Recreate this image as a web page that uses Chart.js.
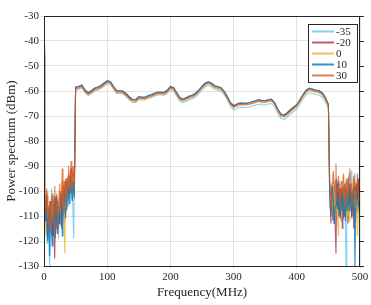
<!DOCTYPE html>
<html>
<head>
<meta charset="utf-8">
<script src="https://cdn.jsdelivr.net/npm/chart.js@4.4.1/dist/chart.umd.min.js"></script>
<style>
  html, body { margin: 0; padding: 0; background: #fff; }
  #wrap { position: relative; width: 371px; height: 305px; }
</style>
</head>
<body>
<div id="wrap"><canvas id="chart" width="371" height="305"></canvas></div>
<script>
// legend labels and line colours (MATLAB-ish palette, a bit transparent)
const seriesLabels = ["-35", "-20", "0", "10", "30"];
const seriesColors = [
  "rgba(77,190,238,0.7)",   // light blue
  "rgba(162,20,47,0.7)",    // dark red
  "rgba(237,177,32,0.8)",   // yellow
  "rgba(0,114,189,0.8)",    // blue
  "rgba(217,83,25,0.75)"    // orange
];

// frequency axis (MHz)
const freqStart = [0];
const freqLow = [
  1,2,3,4,5,6,7,8,9,10,11,12,13,14,15,16,17,18,19,20,21,22,23,24,
  25,26,27,28,29,30,31,32,33,34,35,36,37,38,39,40,41,42,43,44,45,46,47,48
];
const freqPass = [
  50,55,60,65,70,75,80,85,90,95,
  100,105,110,115,120,125,130,135,140,145,
  150,155,160,165,170,175,180,185,190,195,
  200,205,210,215,220,225,230,235,240,245,
  250,255,260,265,270,275,280,285,290,295,
  300,305,310,315,320,325,330,335,340,345,
  350,355,360,365,370,375,380,385,390,395,
  400,405,410,415,420,425,430,435,440,445,
  450
];
const freqHigh = [
  452,453,454,455,456,457,458,459,460,461,462,463,464,465,466,467,468,469,470,471,472,473,474,475,476,
  477,478,479,480,481,482,483,484,485,486,487,488,489,490,491,492,493,494,495,496,497,498,499,500
];

// value at 0 MHz for each series (dBm)
const startValues = [-46, -45, -47, -42, -44];

// out-of-band noise below 50 MHz (dBm)
const lowM35 = [-101,-107,-112,-116,-121,-110,-115,-124,-130,-112,-108,-99,-104,-111,-118,-104,-109,-117,-113,-102,-106,-111,-119,-108,
  -103,-114,-110,-105,-100,-102,-108,-112,-96,-101,-105,-97,-99,-106,-93,-98,-103,-95,-97,-104,-100,-110,-119,-98];
const lowM20 = [-103,-110,-108,-101,-115,-119,-106,-109,-112,-104,-110,-113,-118,-107,-105,-121,-127,-108,-102,-114,-117,-104,-108,-111,
  -112,-106,-100,-115,-110,-103,-98,-109,-106,-100,-95,-107,-102,-97,-94,-101,-99,-96,-91,-100,-97,-93,-95,-98];
const low0 = [-98,-106,-118,-111,-104,-100,-112,-108,-106,-114,-117,-102,-108,-111,-103,-107,-113,-119,-110,-104,-105,-112,-110,-103,
  -100,-109,-106,-101,-96,-107,-104,-112,-125,-99,-108,-103,-95,-98,-101,-95,-92,-100,-98,-93,-96,-102,-94,-97];
const low10 = [-104,-112,-110,-103,-115,-120,-111,-107,-126,-113,-104,-117,-122,-110,-108,-102,-113,-119,-103,-108,-115,-111,-106,-113,
  -109,-104,-101,-110,-118,-106,-104,-100,-98,-111,-107,-102,-96,-99,-102,-105,-97,-94,-99,-101,-104,-96,-98,-103];
const low30 = [-100,-109,-107,-99,-102,-111,-114,-106,-104,-116,-110,-103,-101,-108,-113,-105,-98,-110,-108,-101,-104,-115,-112,-100,
  -97,-106,-105,-99,-91,-108,-103,-96,-98,-104,-95,-100,-102,-94,-90,-98,-97,-92,-88,-101,-96,-90,-93,-99];

// pass band 50..450 MHz (dBm)
const passM35 = [
  -59.6,-59.3,-58.8,-60.8,-61.8,-61.0,-60.0,-59.6,-59.0,-58.0,
  -57.0,-57.4,-59.3,-61.0,-61.0,-61.2,-62.2,-63.5,-64.5,-64.6,
  -63.4,-63.6,-63.6,-63.0,-62.6,-62.0,-61.6,-61.6,-61.7,-60.8,
  -59.7,-60.1,-62.1,-64.1,-64.7,-64.1,-63.5,-63.1,-62.3,-61.1,
  -59.5,-58.3,-57.7,-58.3,-59.3,-59.7,-60.1,-61.5,-63.6,-66.1,
  -67.6,-67.0,-66.5,-66.6,-66.6,-66.4,-66.0,-65.6,-65.2,-65.6,
  -65.6,-65.2,-65.0,-66.4,-69.0,-71.0,-71.4,-70.4,-69.2,-68.2,
  -67.2,-65.2,-63.1,-61.4,-60.6,-61.0,-61.4,-61.6,-62.4,-64.2,
  -67.0
];
const passM20 = [
  -58.6,-58.3,-57.8,-59.8,-60.8,-60.0,-59.0,-58.6,-58.0,-57.0,
  -56.0,-56.4,-58.3,-60.0,-60.0,-60.2,-61.2,-62.5,-63.5,-63.6,
  -62.4,-62.6,-62.6,-62.0,-61.6,-61.0,-60.6,-60.6,-60.7,-59.8,
  -58.4,-58.8,-60.8,-62.8,-63.4,-62.8,-62.2,-61.8,-61.0,-59.8,
  -58.2,-57.0,-56.4,-57.0,-58.0,-58.4,-58.8,-60.2,-62.3,-64.8,
  -66.0,-65.4,-64.9,-65.0,-65.0,-64.8,-64.4,-64.0,-63.6,-64.0,
  -64.0,-63.6,-63.4,-64.8,-67.4,-69.4,-69.8,-68.8,-67.6,-66.6,
  -65.6,-63.6,-61.5,-59.8,-59.0,-59.4,-59.8,-60.0,-60.8,-62.6,
  -65.4
];
const pass0 = [
  -59.3,-59.0,-58.5,-60.5,-61.5,-60.7,-59.7,-59.3,-58.7,-57.7,
  -56.7,-57.1,-59.0,-60.7,-60.7,-60.9,-61.9,-63.2,-64.2,-64.3,
  -63.1,-63.3,-63.3,-62.7,-62.3,-61.7,-61.3,-61.3,-61.4,-60.5,
  -59.1,-59.5,-61.5,-63.5,-64.1,-63.5,-62.9,-62.5,-61.7,-60.5,
  -58.9,-57.7,-57.1,-57.7,-58.7,-59.1,-59.5,-60.9,-63.0,-65.5,
  -66.7,-66.1,-65.6,-65.7,-65.7,-65.5,-65.1,-64.7,-64.3,-64.7,
  -64.7,-64.3,-64.1,-65.5,-68.1,-70.1,-70.5,-69.5,-68.3,-67.3,
  -66.3,-64.3,-62.2,-60.5,-59.7,-60.1,-60.5,-60.7,-61.5,-63.3,
  -66.1
];
const pass10 = [
  -58.4,-58.1,-57.6,-59.6,-60.6,-59.8,-58.8,-58.4,-57.8,-56.8,
  -55.8,-56.2,-58.1,-59.8,-59.8,-60.0,-61.0,-62.3,-63.3,-63.4,
  -62.2,-62.4,-62.4,-61.8,-61.4,-60.8,-60.4,-60.4,-60.5,-59.6,
  -58.2,-58.6,-60.6,-62.6,-63.2,-62.6,-62.0,-61.6,-60.8,-59.6,
  -58.0,-56.8,-56.2,-56.8,-57.8,-58.2,-58.6,-60.0,-62.1,-64.6,
  -65.8,-65.2,-64.7,-64.8,-64.8,-64.6,-64.2,-63.8,-63.4,-63.8,
  -63.8,-63.4,-63.2,-64.6,-67.2,-69.2,-69.6,-68.6,-67.4,-66.4,
  -65.4,-63.4,-61.3,-59.6,-58.8,-59.2,-59.6,-59.8,-60.6,-62.4,
  -65.2
];
const pass30 = [
  -59.0,-58.7,-58.2,-60.2,-61.2,-60.4,-59.4,-59.0,-58.4,-57.4,
  -56.4,-56.8,-58.7,-60.4,-60.4,-60.6,-61.6,-62.9,-63.9,-64.0,
  -62.8,-63.0,-63.0,-62.4,-62.0,-61.4,-61.0,-61.0,-61.1,-60.2,
  -58.8,-59.2,-61.2,-63.2,-63.8,-63.2,-62.6,-62.2,-61.4,-60.2,
  -58.6,-57.4,-56.8,-57.4,-58.4,-58.8,-59.2,-60.6,-62.7,-65.2,
  -66.4,-65.8,-65.3,-65.4,-65.4,-65.2,-64.8,-64.4,-64.0,-64.4,
  -64.4,-64.0,-63.8,-65.2,-67.8,-69.8,-70.2,-69.2,-68.0,-67.0,
  -66.0,-64.0,-61.9,-60.2,-59.4,-59.8,-60.2,-60.4,-61.2,-63.0,
  -65.8
];

// out-of-band noise above 450 MHz (dBm)
const highM35 = [-96,-101,-104,-97,-110,-105,-99,-112,-106,-100,-95,-103,-108,-96,-101,-109,-97,-104,-112,-99,-103,-107,-98,-101,-106,
  -115,-130,-104,-100,-97,-94,-108,-99,-102,-92,-98,-105,-110,-100,-93,-96,-103,-108,-99,-102,-106,-95,-101,-110];
const highM20 = [-100,-106,-113,-99,-103,-112,-108,-101,-110,-116,-125,-104,-97,-103,-110,-99,-104,-111,-99,-106,-115,-98,-102,-110,-107,
  -101,-96,-108,-103,-113,-109,-100,-98,-106,-105,-111,-100,-102,-115,-98,-104,-109,-97,-103,-108,-95,-101,-104,-99];
const high0 = [-98,-103,-106,-110,-101,-96,-111,-105,-97,-108,-104,-99,-109,-113,-118,-102,-100,-107,-105,-111,-98,-103,-108,-97,-103,
  -109,-95,-104,-110,-99,-101,-112,-106,-101,-99,-107,-104,-95,-98,-106,-112,-100,-103,-110,-118,-104,-100,-113,-108];
const high10 = [-102,-107,-110,-103,-98,-101,-105,-113,-112,-106,-100,-95,-107,-104,-96,-110,-109,-100,-103,-108,-99,-105,-111,-102,-97,
  -112,-106,-99,-101,-108,-104,-97,-108,-103,-100,-110,-105,-101,-98,-107,-130,-111,-102,-99,-97,-106,-104,-109,-100];
const high30 = [-95,-100,-103,-108,-97,-94,-92,-98,-101,-96,-89,-104,-99,-101,-94,-99,-104,-107,-96,-102,-100,-95,-93,-106,-98,
  -100,-102,-97,-95,-104,-99,-93,-91,-101,-97,-106,-103,-99,-94,-96,-98,-104,-100,-97,-93,-102,-96,-107,-101];

const lowSets = [lowM35, lowM20, low0, low10, low30];
const passSets = [passM35, passM20, pass0, pass10, pass30];
const highSets = [highM35, highM20, high0, high10, high30];

const freqAll = freqStart.concat(freqLow, freqPass, freqHigh);

const FONT = "'Liberation Serif', 'Times New Roman', serif";
const TXT = "#262626";

const datasets = seriesLabels.map((lab, i) => {
  const vals = [startValues[i]].concat(lowSets[i], passSets[i], highSets[i]);
  return {
    label: lab,
    data: freqAll.map((f, k) => ({ x: f, y: vals[k] })),
    borderColor: seriesColors[i],
    borderWidth: 1.1,
    pointRadius: 0,
    tension: 0,
    fill: false,
    order: seriesLabels.length - i  // last series drawn on top
  };
});

// box around the axes + right-side ticks
const framePlugin = {
  id: "frame",
  afterDraw(chart) {
    const { ctx, chartArea: a } = chart;
    const ys = chart.scales.y;
    ctx.save();
    ctx.strokeStyle = TXT;
    ctx.lineWidth = 1;
    ctx.strokeRect(a.left + 0.5, a.top + 0.5, a.right - a.left - 1, a.bottom - a.top);
    ctx.beginPath();
    ys.ticks.forEach(t => {
      const y = Math.round(ys.getPixelForValue(t.value)) + 0.5;
      ctx.moveTo(a.right, y);
      ctx.lineTo(a.right + 4, y);
    });
    ctx.stroke();
    ctx.restore();
  }
};

// boxed legend in the top-right corner
const legendPlugin = {
  id: "boxLegend",
  afterDraw(chart) {
    const { ctx } = chart;
    const x0 = 308.5, y0 = 24.5, w = 49, h = 58;
    ctx.save();
    ctx.fillStyle = "#fff";
    ctx.fillRect(x0, y0, w, h);
    ctx.strokeStyle = TXT;
    ctx.lineWidth = 1;
    ctx.strokeRect(x0, y0, w, h);
    ctx.font = "11px " + FONT;
    ctx.textBaseline = "middle";
    chart.data.datasets.forEach((ds, i) => {
      const y = 31.5 + i * 11;
      ctx.strokeStyle = ds.borderColor;
      ctx.lineWidth = 2;
      ctx.beginPath();
      ctx.moveTo(312, y);
      ctx.lineTo(334, y);
      ctx.stroke();
      ctx.fillStyle = TXT;
      ctx.fillText(ds.label, 336, y + 0.5);
    });
    ctx.restore();
  }
};

new Chart(document.getElementById("chart").getContext("2d"), {
  type: "line",
  data: { datasets: datasets },
  options: {
    responsive: false,
    animation: false,
    layout: { padding: { left: 0, top: 16, right: 11, bottom: 0 } },
    plugins: { legend: { display: false }, tooltip: { enabled: false } },
    scales: {
      x: {
        type: "linear",
        min: 0,
        max: 500,
        afterFit(scale) { scale.height = 39; },
        ticks: { stepSize: 100, color: TXT, padding: 2, maxRotation: 0, font: { family: FONT, size: 11 } },
        grid: { color: "#e2e2e2", tickLength: 3 },
        border: { color: TXT },
        title: { display: true, text: "Frequency(MHz)", color: TXT, padding: { top: 0, bottom: 5 }, font: { family: FONT, size: 13 } }
      },
      y: {
        min: -130,
        max: -30,
        afterFit(scale) { scale.width = 44; },
        ticks: { stepSize: 10, color: TXT, padding: 1, font: { family: FONT, size: 11 } },
        grid: { color: "#e2e2e2", tickLength: 4 },
        border: { color: TXT },
        title: { display: true, text: "Power spectrum (dBm)", color: TXT, padding: { top: 4, bottom: 0 }, font: { family: FONT, size: 13 } }
      }
    }
  },
  plugins: [framePlugin, legendPlugin]
});
</script>
</body>
</html>
